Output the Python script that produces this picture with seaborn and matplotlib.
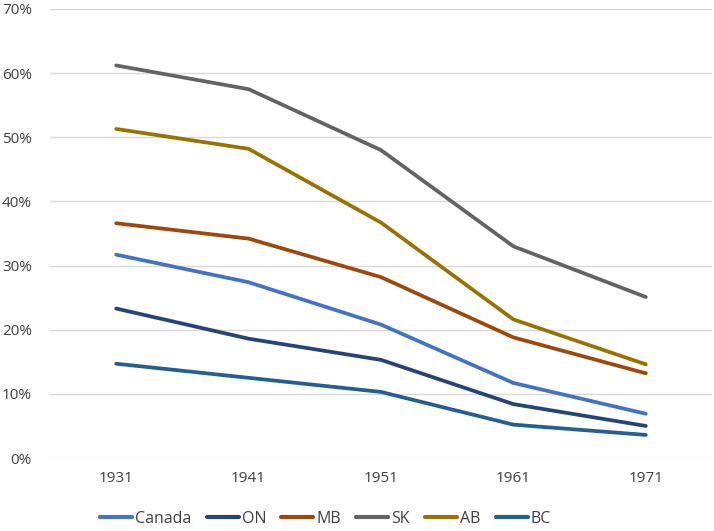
import matplotlib
matplotlib.use("Agg")
import matplotlib.pyplot as plt
import seaborn as sns
import pandas as pd
from matplotlib.ticker import PercentFormatter

years = ["1931", "1941", "1951", "1961", "1971"]
canada = [31.7, 27.4, 20.8, 11.7, 6.9]
on = [23.3, 18.6, 15.3, 8.4, 5.0]
mb = [36.6, 34.2, 28.2, 18.8, 13.2]
sk = [61.2, 57.5, 48.0, 33.0, 25.1]
ab = [51.3, 48.2, 36.7, 21.6, 14.6]
bc = [14.7, 12.5, 10.3, 5.2, 3.6]
series_names = ["Canada", "ON", "MB", "SK", "AB", "BC"]
colors = ["#4472C4", "#264478", "#9E480E", "#636363", "#997300", "#255E91"]

rows = []
for name, vals in zip(series_names, [canada, on, mb, sk, ab, bc]):
    for i, (y, v) in enumerate(zip(years, vals)):
        rows.append({"idx": i, "Year": y, "Region": name, "Value": v / 100})
df = pd.DataFrame(rows)

sns.set_style("white")
plt.rcParams['font.family'] = ['Open Sans', 'DejaVu Sans']

fig = plt.figure(figsize=(7.14, 5.31), dpi=100)
ax = fig.add_axes([50/714, 1-458/531, 662/714, 449/531])

sns.lineplot(data=df, x="idx", y="Value", hue="Region", hue_order=series_names,
             palette=colors, linewidth=2.7, ax=ax, legend=True,
             solid_capstyle="round", solid_joinstyle="round")

ax.set_xlim(-0.5, 4.5)
ax.set_ylim(0, 0.7)
ax.set_xticks(range(len(years)))
ax.set_xticklabels(years)
ax.set_yticks([i/10 for i in range(8)])
ax.yaxis.set_major_formatter(PercentFormatter(1.0, decimals=0))
ax.grid(axis="y", color="#D9D9D9", linewidth=1)
ax.set_axisbelow(True)
for s in ax.spines.values():
    s.set_visible(False)
ax.tick_params(axis="both", length=0, labelsize=11, labelcolor="#404040")
ax.tick_params(axis="x", pad=9)
ax.tick_params(axis="y", pad=13)
ax.set_xlabel("")
ax.set_ylabel("")

handles, labels = ax.get_legend_handles_labels()
for h in handles:
    h.set_linewidth(3.0)
    h.set_solid_capstyle("round")
ax.legend(handles, labels, loc="center left", bbox_to_anchor=((100-50)/662, -(519-458)/449),
          ncol=6, frameon=False, fontsize=11.5, handlelength=2.0, handletextpad=0.2,
          columnspacing=0.95, labelcolor="#404040", borderaxespad=0, borderpad=0)

fig.savefig("out.png", dpi=100)
